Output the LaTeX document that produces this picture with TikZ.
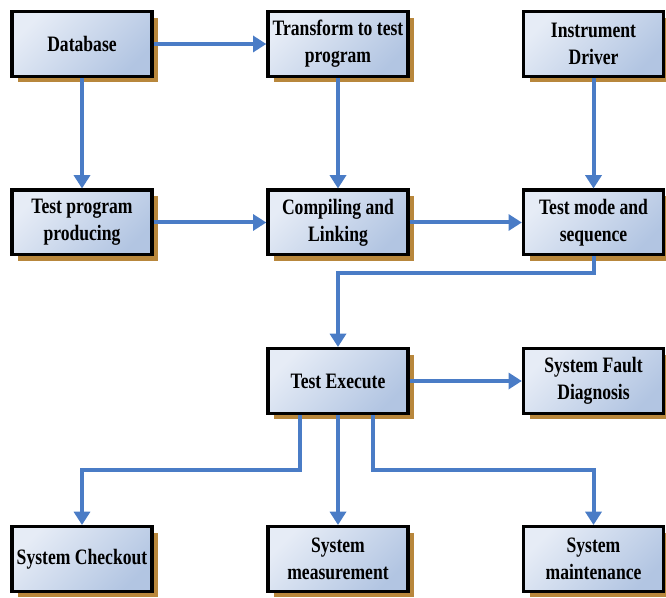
\documentclass[tikz,border=0pt]{standalone}
\usepackage{fontspec}
\newfontfamily\boxfont{Liberation Serif}[FakeStretch=0.8]
\usetikzlibrary{arrows.meta,shadows}
\definecolor{boxlight}{RGB}{230,236,246}
\definecolor{boxdark}{RGB}{178,197,226}
\definecolor{shadowbrown}{RGB}{184,135,60}
\definecolor{linkblue}{RGB}{74,124,198}
\tikzset{
  block/.style={draw=black,line width=2.5pt,minimum width=105pt,minimum height=48.5pt,
    inner sep=0pt,align=center,top color=boxlight,bottom color=boxdark,shading angle=45,
    font=\boxfont\bfseries\fontsize{16.5}{20.5}\selectfont,
    drop shadow={shadow xshift=4.5pt,shadow yshift=-4.5pt,fill=shadowbrown,opacity=1}},
  link/.style={draw=linkblue,line width=3pt,-{Triangle[length=10pt,width=12pt]}}
}
\begin{document}
\begin{tikzpicture}[x=0.75pt,y=-0.75pt]
\useasboundingbox (0,0) rectangle (666,598);
\node[block] (db) at (82,44) {Database};
\node[block] (trans) at (338,44) {Transform to test\\program};
\node[block] (drv) at (593.5,44) {Instrument\\Driver};
\node[block] (prog) at (82,222.5) {Test program\\producing};
\node[block] (comp) at (338,222.5) {Compiling and\\Linking};
\node[block] (mode) at (593.5,222.5) {Test mode and\\sequence};
\node[block] (exec) at (338,381) {Test Execute};
\node[block] (diag) at (593.5,381) {System Fault\\Diagnosis};
\node[block] (chk) at (82,559) {System Checkout};
\node[block] (meas) at (338,559) {System\\measurement};
\node[block] (mnt) at (593.5,559) {System\\maintenance};

\draw[link] (db.east) -- (trans.west);
\draw[link] (db.south) -- (prog.north);
\draw[link] (trans.south) -- (comp.north);
\draw[link] (drv.south) -- (mode.north);
\draw[link] (prog.east) -- (comp.west);
\draw[link] (comp.east) -- (mode.west);
\draw[link] (mode.south) -- ++(0,16) -| (exec.north);
\draw[link] (exec.east) -- (diag.west);
\draw[link] ([xshift=-28.5pt]exec.south) -- ++(0,55) -| (chk.north);
\draw[link] (exec.south) -- (meas.north);
\draw[link] ([xshift=26pt]exec.south) -- ++(0,55) -| (mnt.north);
\end{tikzpicture}
\end{document}
